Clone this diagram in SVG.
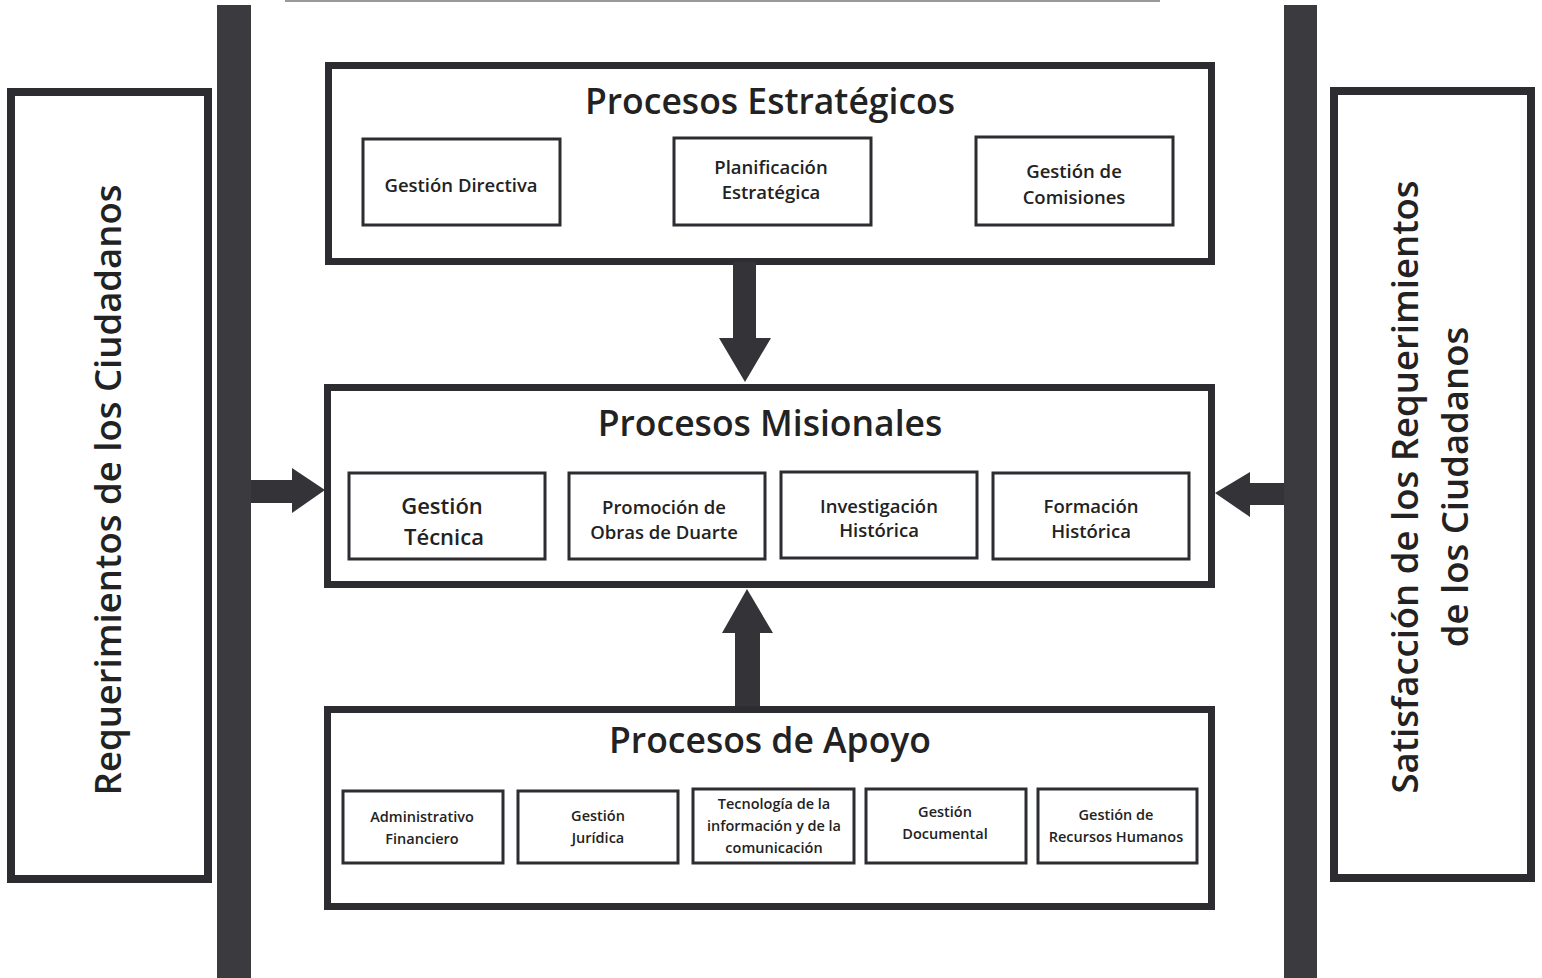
<svg xmlns="http://www.w3.org/2000/svg" width="1542" height="978" viewBox="0 0 1542 978">
<style>
.bar{fill:#3a3a3f}
.big{fill:none;stroke:#2c2c31;stroke-width:7}
.side{fill:none;stroke:#2c2c31;stroke-width:8}
.sm{fill:#fff;stroke:#2c2c31;stroke-width:3}
.arr{fill:#333338}
text{font-family:"Open Sans","Noto Sans","Liberation Sans",sans-serif;fill:#222;text-anchor:middle}
.t{font-size:35.5px;font-weight:600}
.s{font-size:36.5px;font-weight:600}
.m{font-size:18.5px;font-weight:600}
.g{font-size:22px;font-weight:600}
.b{font-size:14.5px;font-weight:600}
</style>
<rect width="1542" height="978" fill="#fff"/>
<line x1="285" y1="1" x2="1160" y2="1" stroke="#999" stroke-width="2"/>
<g id="bar-left"><rect class="bar" x="217" y="5" width="34" height="973"/></g>
<g id="bar-right"><rect class="bar" x="1284" y="5" width="33" height="973"/></g>
<g id="requerimientos">
<rect class="side" x="11" y="92" width="197" height="787"/>
<text class="s" transform="translate(121,490) rotate(-90)">Requerimientos de los Ciudadanos</text>
</g>
<g id="satisfaccion">
<rect class="side" x="1334" y="91" width="197" height="787"/>
<text class="s" transform="translate(1418,487) rotate(-90)">Satisfacción de los Requerimientos</text>
<text class="s" transform="translate(1468,487) rotate(-90)">de los Ciudadanos</text>
</g>
<g id="estrategicos">
<rect class="big" x="328.5" y="65.5" width="883" height="196"/>
<text class="t" x="770" y="114">Procesos Estratégicos</text>
</g>
<g id="gestion-directiva"><rect class="sm" x="363" y="139" width="197" height="86"/><text class="m" x="461" y="192">Gestión Directiva</text></g>
<g id="planificacion"><rect class="sm" x="674" y="138" width="197" height="87"/><text class="m" x="771" y="174">Planificación</text><text class="m" x="771" y="199">Estratégica</text></g>
<g id="comisiones"><rect class="sm" x="976" y="137" width="197" height="88"/><text class="m" x="1074" y="178">Gestión de</text><text class="m" x="1074" y="204">Comisiones</text></g>
<g id="misionales">
<rect class="big" x="327.5" y="387.5" width="884" height="197"/>
<text class="t" x="770" y="436">Procesos Misionales</text>
</g>
<g id="gestion-tecnica"><rect class="sm" x="349" y="473" width="196" height="86"/><text class="g" x="442" y="514">Gestión</text><text class="g" x="444" y="545">Técnica</text></g>
<g id="promocion"><rect class="sm" x="569" y="473" width="196" height="86"/><text class="m" x="664" y="514">Promoción de</text><text class="m" x="664" y="539">Obras de Duarte</text></g>
<g id="investigacion"><rect class="sm" x="781" y="472" width="196" height="86"/><text class="m" x="879" y="513">Investigación</text><text class="m" x="879" y="537">Histórica</text></g>
<g id="formacion"><rect class="sm" x="993" y="473" width="196" height="86"/><text class="m" x="1091" y="513">Formación</text><text class="m" x="1091" y="538">Histórica</text></g>
<g id="apoyo">
<rect class="big" x="327.5" y="709.5" width="884" height="197"/>
<text class="t" x="770" y="753">Procesos de Apoyo</text>
</g>
<g id="administrativo"><rect class="sm" x="343" y="791" width="160" height="72"/><text class="b" x="422" y="822">Administrativo</text><text class="b" x="422" y="844">Financiero</text></g>
<g id="juridica"><rect class="sm" x="518" y="791" width="160" height="72"/><text class="b" x="598" y="821">Gestión</text><text class="b" x="598" y="843">Jurídica</text></g>
<g id="tecnologia"><rect class="sm" x="693" y="789" width="161" height="74"/><text class="b" x="774" y="809">Tecnología de la</text><text class="b" x="774" y="831">información y de la</text><text class="b" x="774" y="853">comunicación</text></g>
<g id="documental"><rect class="sm" x="866" y="789" width="160" height="74"/><text class="b" x="945" y="817">Gestión</text><text class="b" x="945" y="839">Documental</text></g>
<g id="rrhh"><rect class="sm" x="1038" y="789" width="159" height="74"/><text class="b" x="1116" y="820">Gestión de</text><text class="b" x="1116" y="842">Recursos Humanos</text></g>
<g id="connectors">
<polygon class="arr" points="251,480 292,480 292,468 325,490 292,513 292,503 251,503"/>
<polygon class="arr" points="1284,483 1250,483 1250,472 1215,493 1250,517 1250,505 1284,505"/>
<polygon class="arr" points="733,262 756,262 756,338 771,338 745,382 719,338 733,338"/>
<polygon class="arr" points="735,706 760,706 760,633 773,633 747,589 722,633 735,633"/>
</g>
</svg>
